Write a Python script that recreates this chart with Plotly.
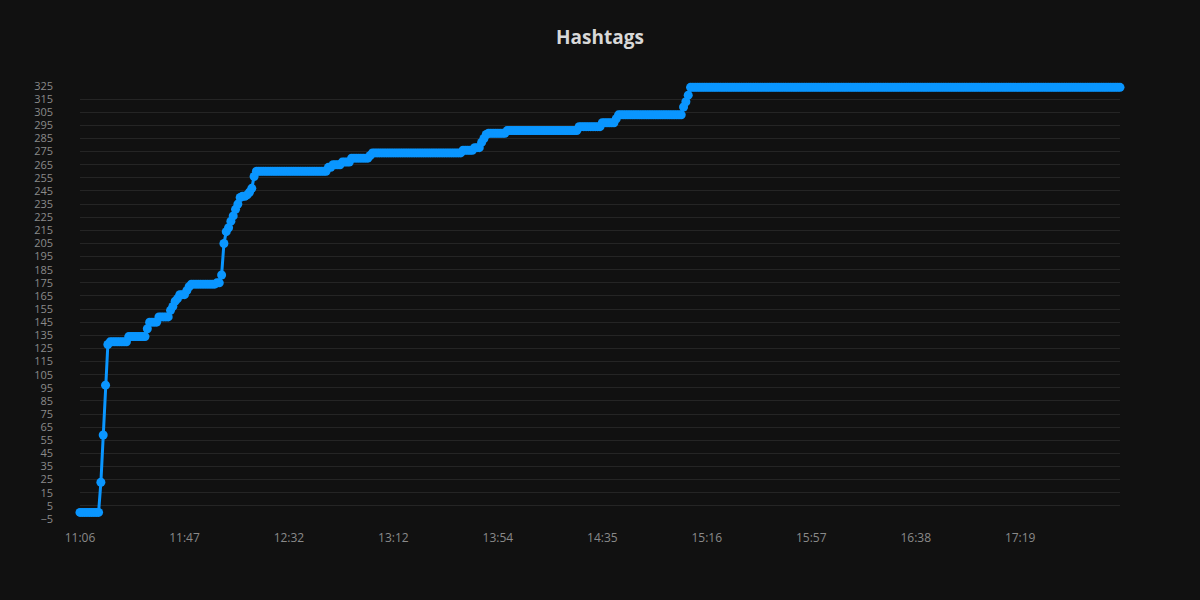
import plotly.graph_objects as go

# Data: run-length encoded sample values (value, number of consecutive samples)
run_values = [0, 23, 59, 97, 128, 130, 134, 140, 145, 149, 154, 157, 161, 163, 166, 169, 172,
              174, 175, 181, 205, 214, 217, 222, 226, 231, 235, 240, 241, 242, 244, 247, 256,
              260, 263, 265, 267, 270, 272, 274, 276, 278, 282, 285, 288, 289, 291, 294, 297,
              300, 303, 309, 313, 318, 324]
run_lengths = [9, 1, 1, 1, 1, 8, 8, 1, 4, 5, 1, 1, 1, 1, 3, 1, 1,
               11, 2, 1, 1, 1, 1, 1, 1, 1, 1, 1, 2, 1, 1, 1, 1,
               31, 2, 4, 4, 8, 1, 39, 5, 3, 1, 1, 1, 8, 31, 10, 6,
               1, 28, 1, 1, 1, 186]

tick_labels = ["11:06", "11:47", "12:32", "13:12", "13:54", "14:35", "15:16", "15:57", "16:38", "17:19"]
label_every = 45  # samples between shown category labels

values = [v for v, n in zip(run_values, run_lengths) for _ in range(n)]
idx = list(range(len(values)))

fig = go.Figure()
fig.add_trace(go.Scatter(
    x=idx, y=values, mode="lines+markers",
    line=dict(color="#0a96ff", width=3),
    marker=dict(color="#0a96ff", size=9),
    cliponaxis=False,
    name="Hashtags", showlegend=False,
))

fig.update_layout(
    width=1200, height=600,
    paper_bgcolor="#111111", plot_bgcolor="#111111",
    margin=dict(l=80, r=80, t=86, b=81),
    font=dict(family="Open Sans, sans-serif", color="#888888", size=11),
    title=dict(text="<b>Hashtags</b>", x=0.5, xanchor="center", y=0.938, yanchor="middle",
               font=dict(size=19, color="#d8d8d8", family="Open Sans, sans-serif")),
    xaxis=dict(
        range=[0, len(values) - 1],
        tickmode="array",
        tickvals=[i * label_every for i in range(len(tick_labels))],
        ticktext=tick_labels,
        showgrid=False, zeroline=False, showline=False,
        ticks="", ticklabelstandoff=10,
        tickfont=dict(size=12, color="#8a8a8a"),
    ),
    yaxis=dict(
        range=[-5, 325], tick0=-5, dtick=10,
        showgrid=True, gridcolor="#252525", gridwidth=1,
        zeroline=False, showline=False, ticks="",
        ticklabelstandoff=26,
        tickfont=dict(size=11, color="#8a8a8a"),
    ),
)

fig.write_html(
    "out.html",
    config={"displayModeBar": False},
    post_script="document.body.style.margin='0';document.body.style.background='#111111';document.body.style.overflow='hidden';",
)
